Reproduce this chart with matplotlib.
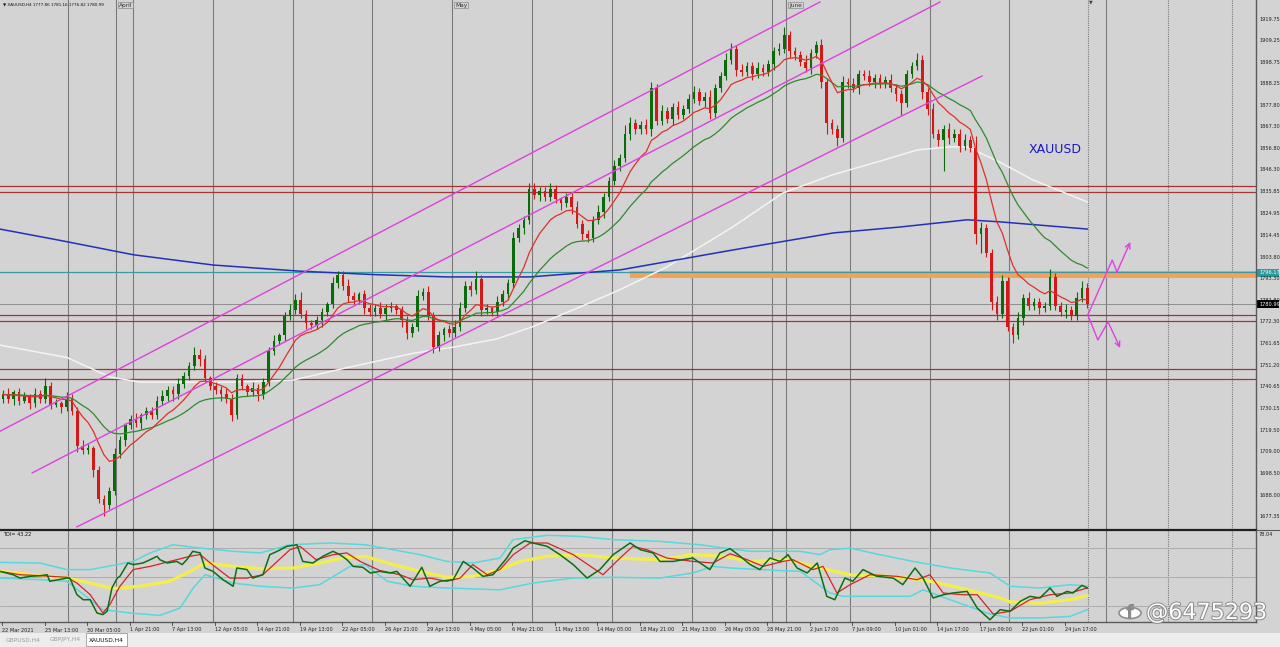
import numpy as np
import pandas as pd
import matplotlib
matplotlib.use("Agg")
import matplotlib.pyplot as plt
from matplotlib import patheffects as pe
from matplotlib.patches import Rectangle, Circle

# ---------------- data (8-hour candles, XAUUSD) ----------------
first_open = 1735.0
closes = [
    1737, 1735, 1738, 1734, 1736, 1733, 1737, 1735, 1741, 1732,
    1733, 1731, 1735, 1729, 1712, 1710, 1711, 1700, 1686, 1683,
    1690, 1708, 1715, 1722, 1725, 1723, 1727, 1729, 1727, 1734,
    1736, 1739, 1737, 1742, 1746, 1751, 1756, 1754, 1745, 1741,
    1739, 1737, 1735, 1727, 1745, 1741, 1738, 1740, 1737, 1743,
    1758, 1763, 1766, 1775, 1778, 1783, 1776, 1772, 1771, 1773,
    1777, 1781, 1791, 1795, 1790, 1785, 1783, 1786, 1779, 1777,
    1779, 1776, 1779, 1780, 1778, 1773, 1767, 1770, 1785, 1787,
    1775, 1760, 1766, 1769, 1767, 1770, 1779, 1790, 1788, 1793,
    1778, 1779, 1777, 1782, 1786, 1791, 1813, 1818, 1822, 1837,
    1834, 1836, 1833, 1837, 1832, 1830, 1833, 1828, 1820, 1815,
    1813, 1822, 1826, 1833, 1841, 1848, 1852, 1864, 1869, 1866,
    1868, 1866, 1886, 1870, 1875, 1871, 1877, 1873, 1876, 1881,
    1884, 1880, 1882, 1874, 1886, 1892, 1900, 1905, 1895, 1894,
    1897, 1893, 1896, 1894, 1898, 1904, 1905, 1912, 1904, 1902,
    1899, 1896, 1903, 1907, 1889, 1869, 1866, 1862, 1889, 1888,
    1886, 1893, 1892, 1889, 1891, 1888, 1890, 1886, 1883, 1879,
    1893, 1897, 1900, 1884, 1876, 1864, 1861, 1866, 1862, 1864,
    1858, 1861, 1857, 1815, 1818, 1806, 1782, 1776, 1792, 1770,
    1766, 1774, 1784, 1780, 1782, 1779, 1780, 1794, 1780, 1777,
    1778, 1775, 1784, 1789, 1780.99,
]
up_wick = [
    2, 3, 1, 2, 2, 1, 3, 2, 4, 2,
    2, 1, 3, 2, 2, 3, 2, 1, 2, 2,
    2, 3, 2, 1, 2, 3, 1, 2, 2, 2,
    3, 2, 2, 3, 2, 2, 4, 3, 2, 1,
    2, 2, 3, 2, 2, 2, 1, 3, 2, 2,
    2, 3, 1, 2, 3, 3, 4, 2, 1, 2,
    2, 1, 3, 2, 2, 3, 2, 1, 2, 2,
    2, 3, 2, 2, 1, 2, 2, 2, 3, 2,
    3, 2, 2, 1, 2, 3, 3, 2, 2, 4,
    2, 2, 1, 3, 2, 2, 3, 2, 2, 3,
    3, 2, 2, 3, 2, 1, 2, 2, 3, 2,
    2, 2, 3, 2, 2, 3, 2, 4, 3, 2,
    2, 3, 3, 2, 3, 2, 2, 3, 2, 2,
    3, 2, 2, 3, 2, 2, 3, 3, 2, 3,
    2, 2, 3, 2, 2, 2, 3, 4, 2, 2,
    2, 3, 2, 2, 3, 2, 2, 2, 3, 2,
    3, 2, 2, 3, 2, 2, 2, 3, 2, 2,
    2, 2, 3, 2, 2, 3, 2, 2, 3, 2,
    2, 3, 2, 6, 3, 2, 2, 3, 3, 2,
    2, 3, 2, 3, 2, 2, 2, 4, 2, 2,
    3, 2, 3, 3, 2,
]
dn_wick = [
    2, 2, 3, 2, 1, 3, 2, 2, 2, 2,
    1, 3, 2, 2, 3, 2, 2, 3, 2, 5,
    2, 2, 2, 3, 2, 2, 3, 2, 2, 2,
    2, 2, 3, 2, 2, 2, 2, 3, 2, 2,
    2, 3, 2, 3, 2, 2, 2, 2, 3, 2,
    2, 2, 2, 3, 2, 2, 2, 3, 2, 2,
    3, 2, 2, 2, 2, 3, 2, 2, 3, 2,
    2, 2, 3, 2, 2, 3, 3, 2, 2, 2,
    2, 3, 2, 3, 2, 2, 2, 2, 3, 2,
    3, 2, 2, 2, 2, 3, 2, 2, 3, 2,
    2, 3, 2, 2, 2, 3, 2, 3, 2, 3,
    2, 2, 2, 3, 2, 2, 2, 2, 3, 2,
    2, 2, 3, 2, 2, 2, 3, 2, 2, 2,
    2, 2, 3, 3, 2, 2, 2, 2, 3, 2,
    2, 3, 2, 2, 2, 3, 2, 2, 3, 2,
    2, 2, 3, 2, 3, 5, 2, 4, 2, 2,
    2, 3, 2, 2, 3, 2, 2, 2, 3, 6,
    2, 2, 2, 3, 3, 2, 3, 15, 3, 2,
    3, 2, 2, 5, 9, 2, 4, 3, 2, 2,
    4, 2, 3, 2, 2, 3, 2, 2, 2, 2,
    3, 2, 2, 2, 2,
]

# long moving averages (carry history from before the visible window)
white_ma_bar = [-0.6, 12.0, 20.1, 25.8, 43.3, 54.6, 64.7, 77.1, 84.7, 92.9, 99.7,
                108.6, 116.1, 124.9, 137.3, 146.7, 156.2, 165.6, 172.0, 178.2,
                181.4, 187.6, 193.8, 204.0]
white_ma_val = [1761, 1755, 1745.5, 1743, 1743, 1744, 1750, 1757, 1760, 1764, 1770,
                1779.6, 1788, 1799, 1818.5, 1835, 1844, 1851, 1856, 1857.5,
                1857.5, 1850, 1841.4, 1830.7]
blue_ma_bar = [-0.6, 10.7, 24.5, 39.5, 55.9, 70.0, 83.5, 99.2, 116.1, 137.3, 156.2,
               168.8, 181.4, 187.6, 204.0]
blue_ma_val = [1817.5, 1812, 1805, 1800, 1797, 1795.3, 1794.2, 1794.2, 1797.6, 1807.3,
               1815.6, 1818.5, 1822, 1821, 1817.5]

# TDI indicator lines (bar position, value)
tdi_green_bar = [-0.6, 1.9, 3.2, 5.1, 7.0, 8.3, 8.8, 12.0, 12.6, 13.9, 15.1, 16.4, 17.7, 18.8,
                 19.6, 20.5, 21.5, 22.0, 23.5, 24.5, 26.3, 27.7, 29.0, 29.5, 30.9, 32.7, 33.7,
                 34.6, 35.7, 37.1, 38.0, 39.5, 41.4, 43.3, 44.0, 45.9, 47.0, 48.9, 50.2, 51.6,
                 53.4, 55.3, 56.4, 58.3, 60.2, 62.1, 63.4, 64.7, 65.9, 67.7, 69.1, 70.9, 72.8,
                 74.1, 76.6, 78.8, 80.3, 82.2, 84.7, 86.6, 88.4, 90.3, 92.2, 94.8, 96.0, 98.2,
                 99.7, 102.4, 104.8, 107.3, 109.9, 112.3, 114.8, 118.0, 119.9, 122.3, 123.6,
                 126.1, 129.8, 133.0, 134.9, 136.8, 138.7, 140.6, 142.4, 144.3, 146.2, 147.7,
                 149.4, 151.3, 153.2, 155.0, 156.5, 158.4, 159.9, 161.8, 164.4, 167.5, 169.3,
                 171.6, 173.1, 175.0, 176.9, 178.7, 181.4, 183.3, 185.7, 187.6, 189.5, 191.4,
                 193.2, 195.1, 197.0, 198.3, 200.2, 201.3, 203.0, 204.0]
tdi_green = [53.5, 51.4, 49.3, 50.4, 50.8, 51.4, 47.3, 49.3, 49.3, 39, 35.8, 35.8, 27.5, 26.5,
             28.6, 43.1, 49.3, 50.4, 58.7, 57.7, 58.7, 60.8, 62.9, 60.8, 58.7, 59.7, 57.7,
             60.8, 66, 65, 55.6, 53.5, 48.3, 44.2, 55.6, 54.6, 49.3, 51.4, 63.9, 66,
             69.1, 70.1, 59.7, 58.7, 62.9, 66, 63.9, 60.8, 56.6, 56, 52.5, 53.5, 52.5,
             53.5, 44.2, 56, 44.2, 47.3, 48.3, 59.7, 55.6, 50.4, 51.4, 61.8, 68.1, 72.6,
             71.2, 69.1, 63.9, 57.7, 49.3, 54.6, 63.9, 71.2, 67, 65, 59.7,
             59.7, 61.8, 54.6, 65, 67.7, 62.9, 57.7, 54.6, 61.8, 59.7, 63.9,
             55.6, 52.5, 58.7, 37.9, 35.8, 49.3, 47.3, 54.6, 50.4, 49.3, 45.2,
             55.6, 49.3, 36.9, 38.9, 40, 41, 30.6, 23.3, 29.6, 28.6, 34.8,
             37.9, 36.9, 43.1, 37.9, 41, 40, 44.8, 43.1]
tdi_red_bar = [-0.6, 3.2, 7.0, 12.0, 13.9, 16.4, 18.8, 20.1, 22.0, 24.5, 27.7, 31.4, 35.2, 37.1,
               39.0, 42.7, 45.9, 48.9, 51.6, 54.0, 55.9, 58.9, 62.1, 64.7, 67.2, 70.9, 74.7,
               77.1, 80.3, 83.5, 86.0, 88.4, 91.1, 93.5, 96.0, 99.2, 102.4, 107.3, 111.0,
               112.9, 116.1, 118.5, 121.2, 124.9, 129.8, 133.6, 136.8, 140.0, 143.0, 146.8,
               148.6, 152.4, 154.3, 156.9, 159.4, 163.1, 168.2, 172.0, 174.4, 176.9, 180.6,
               183.3, 186.3, 189.5, 193.2, 197.0, 200.8, 204.0]
tdi_red = [53.5, 51.4, 50.8, 49.8, 46.2, 39, 27.5, 32.7, 44.2, 54.6, 56.6, 59.7, 62.9, 64,
           58.7, 49.3, 49.3, 51.4, 59.7, 67, 69.1, 60.8, 63.9, 65, 59.7, 54, 51.4,
           48.3, 49.3, 47.3, 49.3, 57.7, 51.4, 54.6, 63.9, 71.2, 71.2, 63.9, 55.6,
           51.4, 61.8, 69.1, 67, 61.8, 59.7, 58.7, 64.5, 60.8, 56.6, 59.7,
           60.8, 54.6, 56.6, 40, 45.2, 51.4, 50.4, 48.3, 51.4, 40, 38.9,
           38.9, 26.9, 28.6, 35.8, 38.9, 40, 43.1]
tdi_base_bar = [-0.6, 12.0, 16.4, 20.7, 25.8, 31.4, 35.2, 38.0, 43.3, 48.4, 54.6, 59.6, 64.0,
                68.1, 73.4, 78.5, 83.5, 88.4, 93.5, 97.3, 102.4, 108.6, 114.8, 123.6, 129.8,
                135.8, 140.6, 147.5, 153.7, 159.4, 166.3, 173.1, 180.1, 187.6, 189.5, 195.1,
                200.8, 204.0]
tdi_base = [53.5, 49.3, 46.2, 42.7, 44.2, 47.3, 53.5, 58.7, 56.6, 55.2, 55.6, 58.7, 61.8,
            62.9, 57.7, 53.5, 49.8, 50.4, 54.6, 59.7, 62.9, 63.9, 61.8, 60.8, 63.9,
            62.9, 59.7, 60.8, 55.6, 51.4, 50.4, 48.3, 43.1, 36.9, 34.4, 33.7,
            35.8, 38.3]
tdi_up_bar = [-0.6, 7.0, 12.0, 16.4, 21.5, 24.5, 27.7, 32.0, 37.1, 43.3, 48.4, 54.0, 61.5,
              68.1, 73.4, 78.5, 83.5, 88.4, 93.5, 96.0, 102.4, 108.6, 114.8, 123.6, 131.1,
              135.8, 140.6, 150.0, 153.7, 155.6, 159.4, 165.0, 171.2, 178.2, 185.7, 189.5,
              195.1, 200.8, 204.0]
tdi_up = [59.1, 58.7, 54.6, 54.6, 57.7, 59.7, 65, 70.1, 68, 66, 65, 70.1, 71.2,
          70.1, 67, 63.9, 59.7, 58.7, 61.8, 73.3, 76, 75.3, 73.3, 72.2, 70.1,
          68, 66, 66, 63.9, 67, 68, 63.9, 59.7, 55.6, 52.5, 44.2,
          43.1, 45.2, 44.2]
tdi_dn_bar = [-0.6, 7.0, 12.0, 16.4, 18.8, 23.9, 29.5, 33.3, 35.8, 38.0, 43.3, 48.4, 54.6,
              59.6, 65.3, 68.1, 72.3, 77.1, 83.5, 93.5, 99.7, 107.3, 114.8, 123.6, 129.8,
              133.6, 136.8, 146.2, 150.0, 155.6, 158.1, 170.7, 173.1, 178.2, 185.7, 189.5,
              195.1, 200.8, 204.0]
tdi_dn = [49.3, 48.3, 47.3, 35.8, 29.6, 27.5, 26, 30.6, 43.1, 51.4, 46.2, 44.2, 43.1,
          45.2, 56.6, 57.7, 47.3, 44.2, 43.1, 42, 46.2, 49.3, 49.8, 49.3, 52.5,
          56.6, 55.6, 54, 53.5, 40, 37.9, 37.9, 42, 35.8, 26.9, 24.4,
          24.4, 25.4, 29.6]
tdi_levels = [68, 50, 32]

# levels
red_levels = [1838.5, 1835.6, 1775.7, 1772.8, 1749.4, 1744.6]
teal_level = 1796.6
zone_low, zone_high, zone_start = 1793.6, 1797.0, 118.0
bid_price = 1780.99

# channel lines ((bar, price), (bar, price))
channels = [((-0.6, 1719.0), (153.7, 1928.0)),
            ((5.5, 1698.8), (176.3, 1928.0)),
            ((13.9, 1672.5), (184.2, 1892.0))]
# scenario arrows
up_path_bar = [204.1, 208.7, 209.6, 212.1]
up_path_val = [1775.7, 1802.4, 1796.6, 1811.2]
dn_path_bar = [204.1, 206.0, 207.9, 210.2]
dn_path_val = [1775.7, 1763.5, 1772.3, 1759.6]

price_ticks = [1919.75, 1909.25, 1898.75, 1888.25, 1877.80, 1867.30, 1856.80, 1846.30,
               1835.85, 1824.95, 1814.45, 1803.80, 1793.30, 1782.80, 1772.30, 1761.65,
               1751.20, 1740.65, 1730.15, 1719.50, 1709.00, 1698.50, 1688.00, 1677.35]
time_labels = ["22 Mar 2021", "25 Mar 13:00", "30 Mar 05:00", "1 Apr 21:00", "7 Apr 13:00",
               "12 Apr 05:00", "14 Apr 21:00", "19 Apr 13:00", "22 Apr 05:00", "26 Apr 21:00",
               "29 Apr 13:00", "4 May 05:00", "6 May 21:00", "11 May 13:00", "14 May 05:00",
               "18 May 21:00", "21 May 13:00", "26 May 05:00", "28 May 21:00", "2 Jun 17:00",
               "7 Jun 09:00", "10 Jun 01:00", "14 Jun 17:00", "17 Jun 09:00", "22 Jun 01:00",
               "24 Jun 17:00"]
separators = [12.2, 21.3, 24.5, 39.5, 54.6, 69.4, 84.5, 99.5, 114.6, 129.6, 144.7,
              147.3, 159.4, 174.4, 189.3, 207.5]
dotted_separators = [204.1, 219.2, 231.2]
months = [("April", 21.3), ("May", 84.5), ("June", 147.3)]

# ---------------- styling ----------------
BG = "#D3D3D3"
BULL = "#0B6B0B"
BEAR = "#D41818"
W, H = 1280, 647
XMIN, XMAX = -0.56, 235.75
YMIN, YMAX = 1671.0, 1929.0

fig = plt.figure(figsize=(12.8, 6.47), dpi=100)
fig.patch.set_facecolor(BG)
ax = fig.add_axes([0, 1 - 530 / H, 1256 / W, 530 / H])
axt = fig.add_axes([0, 1 - 622 / H, 1256 / W, 92 / H])
for a in (ax, axt):
    a.set_facecolor(BG)
    a.set_xlim(XMIN, XMAX)
    a.set_xticks([])
    a.set_yticks([])
    for s in a.spines.values():
        s.set_visible(False)
ax.set_ylim(YMIN, YMAX)

# separators
for a in (ax, axt):
    for s in separators:
        a.axvline(s, color="#7a7a7a", lw=0.8, zorder=1)
    for s in dotted_separators:
        a.axvline(s, color="#7a7a7a", lw=0.8, ls=(0, (1, 1)), zorder=1)

# horizontal levels
ax.axhspan(zone_low, zone_high, xmin=(zone_start - XMIN) / (XMAX - XMIN), xmax=1,
           color="#F4A25A", lw=0, zorder=2)
ax.axhline(teal_level, color="#3A9AA5", lw=0.9, zorder=2)
for lv in red_levels:
    ax.axhline(lv, color="#A53434", lw=0.9, zorder=2)
ax.axhline(bid_price, color="#8E8E8E", lw=0.7, zorder=2)

# moving averages
c = np.array(closes, float)
idx = np.arange(len(c))
ax.plot(white_ma_bar, white_ma_val, color="#F4F4F4", lw=1.1, zorder=3)
ax.plot(blue_ma_bar, blue_ma_val, color="#2231B8", lw=1.1, zorder=3)
cs = pd.Series(c)
red_ma = cs.ewm(span=10, adjust=False).mean()
green_ma = cs.ewm(span=25, adjust=False).mean()
ax.plot(idx, green_ma, color="#2E8B2E", lw=0.9, zorder=5)
ax.plot(idx, red_ma, color="#E0302A", lw=0.9, zorder=5)

# candles
o = np.concatenate([[first_open], c[:-1]])
hi = np.maximum(o, c) + np.array(up_wick)
lo = np.minimum(o, c) - np.array(dn_wick)
bull = c >= o
for m, col in ((bull, BULL), (~bull, BEAR)):
    ax.vlines(idx[m], lo[m], hi[m], color=col, lw=0.8, zorder=4)
    ax.bar(idx[m], np.maximum(np.abs(c - o), 0.5)[m], bottom=np.minimum(o, c)[m],
           width=0.5, color=col, lw=0, zorder=4)

# channels
for (x0, y0), (x1, y1) in channels:
    ax.plot([x0, x1], [y0, y1], color="#E040E0", lw=1.0, zorder=6, clip_on=True)

# scenario arrows
for bx, by in ((up_path_bar, up_path_val), (dn_path_bar, dn_path_val)):
    ax.plot(bx[:-1], by[:-1], color="#E040E0", lw=1.0, zorder=6)
    ax.annotate("", xy=(bx[-1], by[-1]), xytext=(bx[-2], by[-2]),
                arrowprops=dict(arrowstyle="->", color="#E040E0", lw=1.0,
                                mutation_scale=9, shrinkA=0, shrinkB=0), zorder=6)

ax.text(198.0, 1856.4, "XAUUSD", color="#1818C8", fontsize=9,
        family="DejaVu Sans", fontweight="medium", ha="center", va="center", zorder=7)

# ---------------- TDI ----------------
axt.set_ylim(21.9, 79.3)
for lv in tdi_levels:
    axt.axhline(lv, color="#A6A6A6", lw=0.6, zorder=1)
axt.plot(tdi_up_bar, tdi_up, color="#58D8DC", lw=1.1, zorder=2)
axt.plot(tdi_dn_bar, tdi_dn, color="#58D8DC", lw=1.1, zorder=2)
axt.plot(tdi_base_bar, tdi_base, color="#F2EE52", lw=2.4, zorder=3, solid_capstyle="round")
axt.plot(tdi_red_bar, tdi_red, color="#D42424", lw=0.9, zorder=4)
axt.plot(tdi_green_bar, tdi_green, color="#0E6E14", lw=1.1, zorder=5)

# ---------------- frame lines ----------------
def fx(px):
    return px / W

def fy(py):
    return 1 - py / H

fig.add_artist(plt.Line2D([fx(1256), fx(1256)], [fy(0), fy(622)], color="#5a5a5a", lw=1.0))
fig.add_artist(plt.Line2D([0, fx(1256)], [fy(530), fy(530)], color="#202020", lw=1.6))
fig.add_artist(plt.Line2D([0, fx(1256)], [fy(622), fy(622)], color="#5a5a5a", lw=1.0))
fig.add_artist(plt.Line2D([fx(1256), 1], [fy(530), fy(530)], color="#5a5a5a", lw=0.8))

# price axis labels
def price_to_py(p):
    return (YMAX - p) / (YMAX - YMIN) * 530

for p in price_ticks:
    fig.text(fx(1259), fy(price_to_py(p)), f"{p:.2f}", fontsize=3.6, color="#202020",
             va="center", ha="left")
for val, bg in ((1796.17, "#2C9A9A"), (1780.99, "#000000")):
    py = price_to_py(val)
    fig.patches.append(Rectangle((fx(1257), fy(py + 4)), fx(22), 8 / H, transform=fig.transFigure,
                                 color=bg, lw=0))
    fig.text(fx(1259), fy(py), f"{val:.2f}", fontsize=3.6, color="white", va="center", ha="left")
fig.text(fx(1259), fy(535), "78.04", fontsize=3.6, color="#202020", va="center", ha="left")

# time labels
for k, lab in enumerate(time_labels):
    xb = -0.19 + 8 * k
    px = 3 + xb * 5.315
    fig.text(fx(px), fy(630), lab, fontsize=3.6, color="#202020", va="center", ha="left")
    fig.add_artist(plt.Line2D([fx(px), fx(px)], [fy(622), fy(625)], color="#404040", lw=0.6))

# month labels
for name, b in months:
    px = 3 + b * 5.315
    fig.text(fx(px + 3), fy(5), name, fontsize=4.2, color="#303030", va="center", ha="left",
             bbox=dict(boxstyle="square,pad=0.15", fc=BG, ec="#8a8a8a", lw=0.5))

# header
fig.text(fx(3), fy(5), "\u25bc XAUUSD,H4 1777.86 1781.16 1776.82 1780.99", fontsize=3.0,
         color="#101010", va="center", ha="left")
fig.text(fx(3), fy(535), "TDI= 43.22", fontsize=3.6, color="#101010", va="center", ha="left")
fig.text(fx(1091), fy(2), "\u25bc", fontsize=3.5, color="#404040", va="center", ha="center")

# bottom tab bar
fig.patches.append(Rectangle((0, 0), 1, fy(633), transform=fig.transFigure, color="#EDEDED", lw=0))
tabs = [("GBPUSD,H4", 4, 42, False), ("GBPJPY,H4", 46, 84, False), ("XAUUSD,H4", 86, 127, True)]
for name, x0, x1, active in tabs:
    if active:
        fig.patches.append(Rectangle((fx(x0), fy(646)), fx(x1 - x0), 13 / H, transform=fig.transFigure,
                                     fc="white", ec="#9a9a9a", lw=0.6))
    fig.text(fx((x0 + x1) / 2), fy(640), name, fontsize=4.2,
             color="#111111" if active else "#9a9a9a", va="center", ha="center")

# watermark
fig.patches.append(Circle((fx(1130), fy(613)), 11 / W, transform=fig.transFigure,
                          fc="white", ec="#8a8a8a", lw=1.2, alpha=0.95))
fig.text(fx(1130), fy(613), "f", fontsize=13, color="#8a8a8a", ha="center", va="center",
         fontweight="bold")
fig.text(fx(1146), fy(613), "@6475293", fontsize=16, color="white", ha="left", va="center",
         path_effects=[pe.withStroke(linewidth=1.4, foreground="#8a8a8a")])

fig.savefig("out.png", dpi=100, facecolor=BG)
